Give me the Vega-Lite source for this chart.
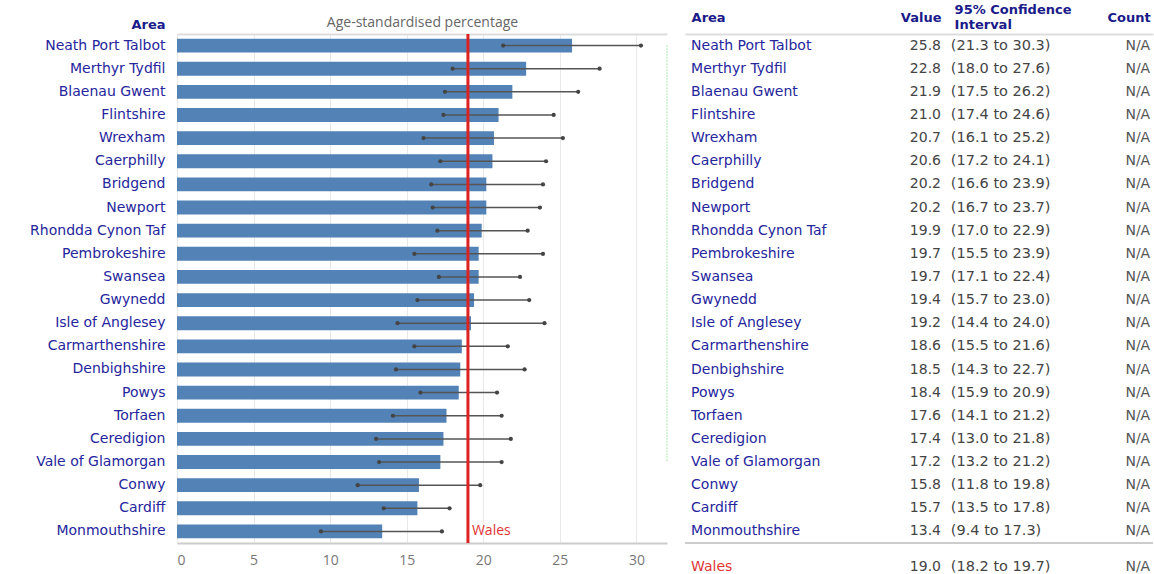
{
  "$schema": "https://vega.github.io/schema/vega-lite/v6.json",
  "background": "white",
  "padding": {"left": 29, "top": 3, "right": 0, "bottom": 0},
  "config": {"view": {"stroke": null}, "font": "DejaVu Sans", "axis": {"labelFont": "DejaVu Sans", "titleFont": "DejaVu Sans"}},
  "bounds": "flush",
  "spacing": 18,
  "datasets": {
    "rows": [
      {"Area": "Neath Port Talbot", "Value": 25.8, "Low": 21.3, "High": 30.3, "CI": "(21.3 to 30.3)", "Count": "N/A"},
      {"Area": "Merthyr Tydfil", "Value": 22.8, "Low": 18.0, "High": 27.6, "CI": "(18.0 to 27.6)", "Count": "N/A"},
      {"Area": "Blaenau Gwent", "Value": 21.9, "Low": 17.5, "High": 26.2, "CI": "(17.5 to 26.2)", "Count": "N/A"},
      {"Area": "Flintshire", "Value": 21.0, "Low": 17.4, "High": 24.6, "CI": "(17.4 to 24.6)", "Count": "N/A"},
      {"Area": "Wrexham", "Value": 20.7, "Low": 16.1, "High": 25.2, "CI": "(16.1 to 25.2)", "Count": "N/A"},
      {"Area": "Caerphilly", "Value": 20.6, "Low": 17.2, "High": 24.1, "CI": "(17.2 to 24.1)", "Count": "N/A"},
      {"Area": "Bridgend", "Value": 20.2, "Low": 16.6, "High": 23.9, "CI": "(16.6 to 23.9)", "Count": "N/A"},
      {"Area": "Newport", "Value": 20.2, "Low": 16.7, "High": 23.7, "CI": "(16.7 to 23.7)", "Count": "N/A"},
      {"Area": "Rhondda Cynon Taf", "Value": 19.9, "Low": 17.0, "High": 22.9, "CI": "(17.0 to 22.9)", "Count": "N/A"},
      {"Area": "Pembrokeshire", "Value": 19.7, "Low": 15.5, "High": 23.9, "CI": "(15.5 to 23.9)", "Count": "N/A"},
      {"Area": "Swansea", "Value": 19.7, "Low": 17.1, "High": 22.4, "CI": "(17.1 to 22.4)", "Count": "N/A"},
      {"Area": "Gwynedd", "Value": 19.4, "Low": 15.7, "High": 23.0, "CI": "(15.7 to 23.0)", "Count": "N/A"},
      {"Area": "Isle of Anglesey", "Value": 19.2, "Low": 14.4, "High": 24.0, "CI": "(14.4 to 24.0)", "Count": "N/A"},
      {"Area": "Carmarthenshire", "Value": 18.6, "Low": 15.5, "High": 21.6, "CI": "(15.5 to 21.6)", "Count": "N/A"},
      {"Area": "Denbighshire", "Value": 18.5, "Low": 14.3, "High": 22.7, "CI": "(14.3 to 22.7)", "Count": "N/A"},
      {"Area": "Powys", "Value": 18.4, "Low": 15.9, "High": 20.9, "CI": "(15.9 to 20.9)", "Count": "N/A"},
      {"Area": "Torfaen", "Value": 17.6, "Low": 14.1, "High": 21.2, "CI": "(14.1 to 21.2)", "Count": "N/A"},
      {"Area": "Ceredigion", "Value": 17.4, "Low": 13.0, "High": 21.8, "CI": "(13.0 to 21.8)", "Count": "N/A"},
      {"Area": "Vale of Glamorgan", "Value": 17.2, "Low": 13.2, "High": 21.2, "CI": "(13.2 to 21.2)", "Count": "N/A"},
      {"Area": "Conwy", "Value": 15.8, "Low": 11.8, "High": 19.8, "CI": "(11.8 to 19.8)", "Count": "N/A"},
      {"Area": "Cardiff", "Value": 15.7, "Low": 13.5, "High": 17.8, "CI": "(13.5 to 17.8)", "Count": "N/A"},
      {"Area": "Monmouthshire", "Value": 13.4, "Low": 9.4, "High": 17.3, "CI": "(9.4 to 17.3)", "Count": "N/A"},
      {"Area": "Wales", "Value": 19.0, "Low": 18.2, "High": 19.7, "CI": "(18.2 to 19.7)", "Count": "N/A"}
    ]
  },
  "hconcat": [
    {
      "width": 490,
      "height": 509,
      "data": {"name": "rows"},
      "resolve": {"axis": {"x": "independent", "y": "independent"}},
      "layer": [
        {
          "transform": [{"filter": "datum.Area !== 'Wales'"}],
          "mark": {"type": "bar", "color": "#5282b6"},
          "encoding": {
            "y": {"field": "Area", "type": "nominal", "sort": null,
              "scale": {"paddingInner": 0.4, "paddingOuter": 0.2},
              "axis": {"title": "Area", "titleAngle": 0, "titleAlign": "right", "titleBaseline": "alphabetic", "titleX": -12, "titleY": -6, "titleFontSize": 13, "titleFontWeight": "bold", "titleColor": "#1a1a8a", "labelFontSize": 14, "labelColor": "#25259c", "labelPadding": 12, "ticks": false, "domain": false}},
            "x": {"field": "Value", "type": "quantitative", "scale": {"domain": [0, 32], "nice": false},
              "axis": {"orient": "bottom", "values": [0, 5, 10, 15, 20, 25, 30], "title": null, "grid": true, "gridColor": "#e8e8e8", "ticks": false, "domainColor": "#cccccc", "domainWidth": 2, "labelColor": "#777777", "labelFont": "Open Sans", "labelFontSize": 14, "labelPadding": 10}}
          }
        },
        {
          "transform": [{"filter": "datum.Area !== 'Wales'"}],
          "mark": {"type": "rule", "color": "#555555", "strokeWidth": 1.5},
          "encoding": {
            "y": {"field": "Area", "type": "nominal", "sort": null, "axis": null},
            "x": {"field": "Low", "type": "quantitative",
              "axis": {"orient": "top", "title": "Age-standardised percentage", "labels": false, "ticks": false, "grid": false, "domainColor": "#dddddd", "domainWidth": 2, "titleFont": "Open Sans", "titleFontSize": 14, "titleFontWeight": "normal", "titleColor": "#666666", "titlePadding": 5}},
            "x2": {"field": "High"}
          }
        },
        {
          "transform": [{"filter": "datum.Area !== 'Wales'"}],
          "mark": {"type": "point", "filled": true, "color": "#444444", "size": 18, "opacity": 1},
          "encoding": {
            "y": {"field": "Area", "type": "nominal", "sort": null, "axis": null},
            "x": {"field": "Low", "type": "quantitative", "axis": null}
          }
        },
        {
          "transform": [{"filter": "datum.Area !== 'Wales'"}],
          "mark": {"type": "point", "filled": true, "color": "#444444", "size": 18, "opacity": 1},
          "encoding": {
            "y": {"field": "Area", "type": "nominal", "sort": null, "axis": null},
            "x": {"field": "High", "type": "quantitative", "axis": null}
          }
        },
        {
          "transform": [{"filter": "datum.Area === 'Wales'"}],
          "mark": {"type": "rule", "color": "#55dd55", "strokeWidth": 1, "strokeDash": [1, 2]},
          "encoding": {
            "x": {"datum": 32, "type": "quantitative", "axis": null},
            "y": {"datum": "Neath Port Talbot", "type": "nominal", "axis": null},
            "y2": {"datum": "Vale of Glamorgan"}
          }
        },
        {
          "transform": [{"filter": "datum.Area === 'Wales'"}],
          "mark": {"type": "rule", "color": "#dd2222", "strokeWidth": 3},
          "encoding": {
            "x": {"field": "Value", "type": "quantitative", "axis": null}
          }
        },
        {
          "transform": [{"filter": "datum.Area === 'Wales'"}],
          "mark": {"type": "text", "align": "left", "baseline": "middle", "dx": 4, "color": "#e03535", "font": "Open Sans", "fontSize": 14},
          "encoding": {
            "x": {"field": "Value", "type": "quantitative", "axis": null},
            "y": {"datum": "Monmouthshire", "type": "nominal", "axis": null},
            "text": {"field": "Area"}
          }
        }
      ]
    },
    {
      "width": 468,
      "height": 532.2,
      "data": {"name": "rows"},
      "resolve": {"axis": {"x": "independent"}},
      "encoding": {
        "y": {"field": "Area", "type": "nominal", "sort": null,
          "scale": {"paddingInner": 0.4, "paddingOuter": 0.2}, "axis": null}
      },
      "layer": [
        {
          "transform": [{"filter": "datum.Area !== 'Wales'"}],
          "mark": {"type": "text", "align": "left", "baseline": "middle", "fontSize": 14, "color": "#25259c"},
          "encoding": {
            "x": {"datum": 1.3, "type": "quantitative", "scale": {"domain": [0, 100], "nice": false},
              "axis": {"orient": "top", "values": [1.3, 54.7, 57.5, 99.4], "title": null,
                "labelExpr": "datum.value < 2 ? 'Area' : datum.value < 55 ? 'Value' : datum.value < 60 ? ['95% Confidence', 'Interval'] : 'Count'",
                "labelAlign": {"condition": {"test": "datum.value > 50 && datum.value < 55 || datum.value > 90", "value": "right"}, "value": "left"},
                "labelPadding": {"condition": {"test": "datum.value > 56 && datum.value < 60", "value": 25}, "value": 17},
                "labelBaseline": "middle", "labelLineHeight": 15, "labelFontWeight": "bold", "labelColor": "#1a1a8a", "labelFontSize": 13,
                "labelOverlap": false, "labelFlush": false, "labelBound": false,
                "ticks": false, "grid": false, "domainColor": "#dddddd", "domainWidth": 2}},
            "text": {"field": "Area"}
          }
        },
        {
          "transform": [{"filter": "datum.Area !== 'Wales'"}],
          "mark": {"type": "text", "align": "right", "baseline": "middle", "fontSize": 14, "color": "#444444"},
          "encoding": {
            "x": {"datum": 54.7, "type": "quantitative", "axis": null},
            "text": {"field": "Value", "format": ".1f"}
          }
        },
        {
          "transform": [{"filter": "datum.Area !== 'Wales'"}],
          "mark": {"type": "text", "align": "left", "baseline": "middle", "fontSize": 14.5, "color": "#444444"},
          "encoding": {
            "x": {"datum": 56.8, "type": "quantitative", "axis": null},
            "text": {"field": "CI"}
          }
        },
        {
          "transform": [{"filter": "datum.Area !== 'Wales'"}],
          "mark": {"type": "text", "align": "right", "baseline": "middle", "fontSize": 14, "color": "#555555"},
          "encoding": {
            "x": {"datum": 99.4, "type": "quantitative", "axis": null},
            "text": {"field": "Count"}
          }
        },
        {
          "transform": [{"filter": "datum.Area === 'Wales'"}],
          "mark": {"type": "text", "align": "left", "baseline": "middle", "dy": 12.3, "fontSize": 14, "color": "#e03535"},
          "encoding": {
            "x": {"datum": 1.3, "type": "quantitative", "axis": null},
            "text": {"field": "Area"}
          }
        },
        {
          "transform": [{"filter": "datum.Area === 'Wales'"}],
          "mark": {"type": "text", "align": "right", "baseline": "middle", "dy": 12.3, "fontSize": 14, "color": "#444444"},
          "encoding": {
            "x": {"datum": 54.7, "type": "quantitative", "axis": null},
            "text": {"field": "Value", "format": ".1f"}
          }
        },
        {
          "transform": [{"filter": "datum.Area === 'Wales'"}],
          "mark": {"type": "text", "align": "left", "baseline": "middle", "dy": 12.3, "fontSize": 14.5, "color": "#444444"},
          "encoding": {
            "x": {"datum": 56.8, "type": "quantitative", "axis": null},
            "text": {"field": "CI"}
          }
        },
        {
          "transform": [{"filter": "datum.Area === 'Wales'"}],
          "mark": {"type": "text", "align": "right", "baseline": "middle", "dy": 12.3, "fontSize": 14, "color": "#555555"},
          "encoding": {
            "x": {"datum": 99.4, "type": "quantitative", "axis": null},
            "text": {"field": "Count"}
          }
        },
        {
          "transform": [{"filter": "datum.Area === 'Wales'"}],
          "mark": {"type": "rule", "color": "#cccccc", "strokeWidth": 2},
          "encoding": {
            "x": {"datum": 0, "type": "quantitative", "axis": null},
            "x2": {"datum": 100},
            "y": {"datum": "Wales", "type": "nominal", "bandPosition": -0.33}
          }
        }
      ]
    }
  ]
}
